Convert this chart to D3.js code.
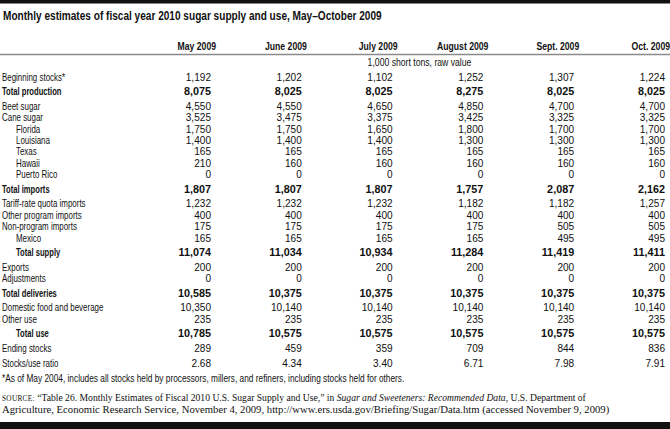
<!DOCTYPE html>
<html><head><meta charset="utf-8">
<script src="https://cdn.jsdelivr.net/npm/d3@7"></script>
<style>body{margin:0;background:#fff} svg{display:block}</style>
</head><body>
<svg id="c" width="670" height="429"></svg>
<script>
const titleText = "Monthly estimates of fiscal year 2010 sugar supply and use, May\u2013October 2009";
const months = ["May 2009","June 2009","July 2009","August 2009","Sept. 2009","Oct. 2009"];
const unitLabel = "1,000 short tons, raw value";
const rowLabels = ["Beginning stocks*","Total production","Beet sugar","Cane sugar","Florida","Louisiana","Texas","Hawaii","Puerto Rico","Total imports","Tariff-rate quota imports","Other program imports","Non-program imports","Mexico","Total supply","Exports","Adjustments","Total deliveries","Domestic food and beverage","Other use","Total use","Ending stocks","Stocks/use ratio"];
const boldRows = ["Total production","Total imports","Total supply","Total deliveries","Total use"];
const indentRows = ["Florida","Louisiana","Texas","Hawaii","Puerto Rico","Mexico","Total supply","Total use"];
const may2009  = [1192,8075,4550,3525,1750,1400,165,210,0,1807,1232,400,175,165,11074,200,0,10585,10350,235,10785,289,2.68];
const june2009 = [1202,8025,4550,3475,1750,1400,165,160,0,1807,1232,400,175,165,11034,200,0,10375,10140,235,10575,459,4.34];
const july2009 = [1102,8025,4650,3375,1650,1400,165,160,0,1807,1232,400,175,165,10934,200,0,10375,10140,235,10575,359,3.40];
const aug2009  = [1252,8275,4850,3425,1800,1300,165,160,0,1757,1182,400,175,165,11284,200,0,10375,10140,235,10575,709,6.71];
const sept2009 = [1307,8025,4700,3325,1700,1300,165,160,0,2087,1182,400,505,495,11419,200,0,10375,10140,235,10575,844,7.98];
const oct2009  = [1224,8025,4700,3325,1700,1300,165,160,0,2162,1257,400,505,495,11411,200,0,10375,10140,235,10575,836,7.91];
const footnoteText = "*As of May 2004, includes all stocks held by processors, millers, and refiners, including stocks held for others.";

const columns = [may2009, june2009, july2009, aug2009, sept2009, oct2009];

const W = 670, H = 429;
const svg = d3.select("#c");
svg.append("rect").attr("width", W).attr("height", H).attr("fill", "#fff");
svg.append("rect").attr("x", 0).attr("y", 0).attr("width", W).attr("height", 3.5).attr("fill", "#111");
svg.append("rect").attr("x", 0).attr("y", 422).attr("width", W).attr("height", 7).attr("fill", "#111");

const SANS = "'Liberation Sans', Arial, Helvetica, sans-serif";
const SERIF = "'Liberation Serif', 'Times New Roman', serif";
function txt(x, y, s, o) {
  return svg.append("text")
    .attr("transform", `translate(${x},${y}) scale(${o.sx || 1},1)`)
    .attr("text-anchor", o.anchor || "start")
    .attr("font-family", o.family || SANS)
    .attr("font-size", o.size || 10)
    .attr("font-weight", o.bold ? "bold" : "normal")
    .attr("fill", o.fill || "#111")
    .text(s);
}
function fitNode(t, x, y, width) {
  const w = t.node().getBBox().width;
  t.attr("transform", `translate(${x},${y}) scale(${width / w},1)`);
  return t;
}
function fitTxt(x, y, s, o, width) {
  const t = txt(x, y, s, Object.assign({}, o, {sx: 1}));
  return fitNode(t, x, y, width);
}

// title
fitTxt(3, 19.8, titleText, {bold: true, size: 13}, 379);

// column scale (right edges of numbers)
const x = d3.scalePoint().domain(months).range([211, 665]);

// headers
months.forEach(m => txt(x(m) + 5, 50, m, {bold: true, size: 10.3, sx: 0.84, anchor: "end"}));
svg.append("line").attr("x1", 0).attr("x2", W).attr("y1", 54.5).attr("y2", 54.5)
  .attr("stroke", "#8a8a8a").attr("stroke-width", 1.6);

// unit label
txt((x(months[0]) - 40 + 668) / 2, 65.6, unitLabel, {size: 10.3, sx: 0.84, anchor: "middle"});

// row positions
const rowY = [];
let yy = 76.8;
rowLabels.forEach((r, i) => {
  if (i > 0) {
    const big = boldRows.includes(r) || boldRows.includes(rowLabels[i - 1]) || r === "Stocks/use ratio";
    yy += big ? 14.6 : 11.4;
  }
  rowY.push(yy);
});
const y = d3.scaleOrdinal().domain(rowLabels).range(rowY);

const fmtInt = d3.format(",");
const fmtRatio = d3.format(".2f");

rowLabels.forEach((r, i) => {
  const bold = boldRows.includes(r);
  const base = y(r) + 3.7;
  txt(indentRows.includes(r) ? 16 : 2, base, r, {bold, size: 10.3, sx: bold ? 0.74 : 0.77});
  columns.forEach((col, j) => {
    const v = col[i];
    const s = r === "Stocks/use ratio" ? fmtRatio(v) : fmtInt(v);
    txt(x(months[j]), base, s, {bold, size: 10.4, sx: bold ? 1.04 : 0.97, anchor: "end"});
  });
});

// footnote
fitTxt(2, 381.6, footnoteText, {size: 10.2}, 402);

// source
const srcSize = 10.8;
const s1 = svg.append("text").attr("transform", "translate(2,400.6)")
  .attr("font-family", SERIF).attr("font-size", srcSize).attr("fill", "#111");
s1.append("tspan").attr("font-size", srcSize * 0.76).attr("letter-spacing", 0.3).text("SOURCE:");
s1.append("tspan").text(" \u201cTable 26. Monthly Estimates of Fiscal 2010 U.S. Sugar Supply and Use,\u201d in ");
s1.append("tspan").attr("font-style", "italic").text("Sugar and Sweeteners: Recommended Data");
s1.append("tspan").text(", U.S. Department of");
fitNode(s1, 2, 400.6, 585);
const s2 = svg.append("text").attr("transform", "translate(2,413)")
  .attr("font-family", SERIF).attr("font-size", srcSize).attr("fill", "#111")
  .text("Agriculture, Economic Research Service, November 4, 2009, http://www.ers.usda.gov/Briefing/Sugar/Data.htm (accessed November 9, 2009)");
fitNode(s2, 2, 413, 608);
</script>
</body></html>
